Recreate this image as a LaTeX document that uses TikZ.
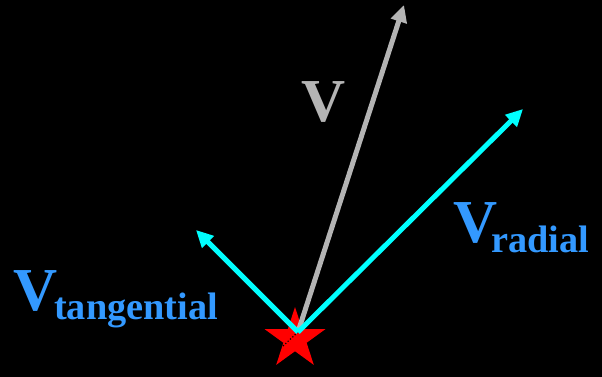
\documentclass[tikz,border=0pt]{standalone}
\usepackage{fontspec}
\setmainfont{Liberation Serif}
\usetikzlibrary{shapes.geometric,arrows.meta}
\definecolor{cyanc}{HTML}{00FFFF}
\definecolor{grayc}{HTML}{B4B4B4}
\definecolor{bluec}{HTML}{3399FF}
\begin{document}
\begin{tikzpicture}[x=1pt,y=-1pt,
  vec/.style={line width=5pt,-{Triangle[length=17pt,width=16pt]}},
  big/.style={font=\fontsize{61}{61}\selectfont\bfseries,inner sep=0pt,anchor=base west},
  sub/.style={font=\fontsize{38.3}{38}\selectfont\bfseries,inner sep=0pt,anchor=base west,text=bluec}]
\fill[black] (0,0) rectangle (602,377);
\useasboundingbox (0,0) rectangle (602,377);
\node[star,star points=5,star point ratio=2.618,minimum size=64pt,inner sep=0pt,fill=red,draw=none] (S) at (295,339) {};
\coordinate (O) at (298,332);
\coordinate (Dend) at (283,346);
\coordinate (Vt) at (404,5);
\coordinate (Rt) at (523,109);
\coordinate (Tt) at (196,230);
\draw[black,line width=1.2pt,dotted] (Dend) -- (O);
\draw[vec,grayc] (O) -- (Vt);
\draw[vec,cyanc] (O) -- (Rt);
\draw[vec,cyanc] (O) -- (Tt);
\node[big,text=grayc] (lv) at (301,122) {V};
\node[big,text=bluec] (lr) at (453,242) {V};
\node[sub] (lrs) at (491,252) {radial};
\node[big,text=bluec] (lt) at (13,310) {V};
\node[sub] (lts) at (54,319) {tangential};
\end{tikzpicture}
\end{document}
